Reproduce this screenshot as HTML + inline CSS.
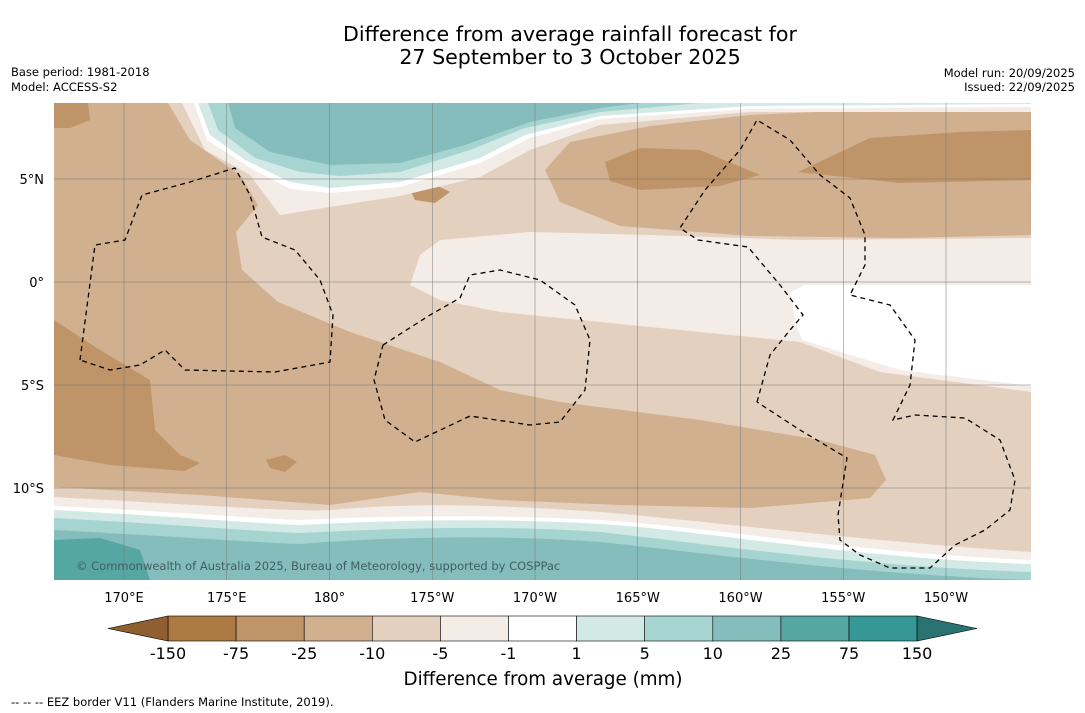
<!DOCTYPE html>
<html><head><meta charset="utf-8">
<style>
body{margin:0;background:#fff;font-family:"DejaVu Sans","Liberation Sans",sans-serif;}
svg{display:block;font-family:"DejaVu Sans","Liberation Sans",sans-serif;}
</style></head>
<body>
<svg width="1085" height="713" viewBox="0 0 1085 713">
<text x="570" y="41" text-anchor="middle" font-size="20.6">Difference from average rainfall forecast for</text>
<text x="570" y="64" text-anchor="middle" font-size="20.6">27 September to 3 October 2025</text>
<text x="11" y="76" font-size="11.5">Base period: 1981-2018</text>
<text x="11" y="91" font-size="11.5">Model: ACCESS-S2</text>
<text x="1075" y="77" font-size="11.5" text-anchor="end">Model run: 20/09/2025</text>
<text x="1075" y="91" font-size="11.5" text-anchor="end">Issued: 22/09/2025</text>
<defs><clipPath id="mc"><rect x="54" y="103" width="977" height="477"/></clipPath></defs>
<g clip-path="url(#mc)">
<rect x="54" y="103" width="977" height="477" fill="#e3d0bf"/>
<path d="M54,103 L168,103 L190,140 L240,175 L258,205 L236,232 L242,270 L278,302 L350,332 L440,362 L500,390 L560,402 L700,420 L820,440 L875,455 L886,480 L870,498 L750,508 L620,505 L500,500 L420,492 L330,505 L200,495 L54,487 Z" fill="#d1b08f"/>
<path d="M545,170 L570,142 L650,126 L750,115 L900,108 L1031,110 L1031,235 L900,238 L750,236 L620,226 L560,202 Z" fill="#d1b08f"/>
<path d="M605,162 L640,148 L700,150 L760,175 L720,186 L640,190 L610,181 Z" fill="#bf9468"/>
<path d="M798,172 L870,138 L960,132 L1031,130 L1031,180 L900,183 Z" fill="#bf9468"/>
<path d="M54,320 L100,350 L150,380 L155,430 L180,455 L200,463 L185,471 L110,465 L54,455 Z" fill="#bf9468"/>
<path d="M54,103 L88,103 L90,120 L70,128 L54,128 Z" fill="#bf9468"/>
<path d="M410,190 L430,182 L450,192 L435,203 L415,200 Z" fill="#bf9468"/>
<path d="M266,460 L285,455 L297,462 L285,472 L270,468 Z" fill="#bf9468"/>
<path d="M410,285 L420,255 L440,240 L530,232 L650,235 L800,240 L1031,238 L1031,392 L880,372 L800,342 L700,332 L600,322 L500,312 L440,300 Z" fill="#f4ece6"/>
<path d="M790,292 L805,285 L1031,285 L1031,386 L900,370 L802,340 L795,320 Z" fill="#fff"/>
<path d="M182,103 L205,150 L250,175 L280,215 L330,207 L400,196 L480,177 L530,150 L600,125 L750,112 L1031,112 L1031,103 Z" fill="#f4ece6"/>
<path d="M194,103 L207,140 L247,166 L290,189 L330,193 L400,187 L480,163 L530,138 L600,119 L750,109 L1031,107 L1031,103 Z" fill="#fff"/>
<path d="M198,103 L210,135 L245,160 L290,182 L330,188 L400,182 L480,158 L525,135 L600,116 L750,106 L1031,104 L1031,103 Z" fill="#d3e9e6"/>
<path d="M208,103 L218,130 L255,158 L300,172 L340,176 L400,172 L470,150 L525,128 L600,112 L700,103 Z" fill="#a6d4d0"/>
<path d="M228,103 L235,128 L270,152 L330,165 L400,163 L465,145 L530,122 L600,108 L640,103 Z" fill="#84bdbb"/>
<path d="M54,497 C200,505 300,512 330,510 C420,502 500,505 600,512 C700,520 850,540 1031,552 L1031,580 L54,580 Z" fill="#f4ece6"/>
<path d="M54,506 C200,513 280,520 300,520 C400,515 500,515 600,520 C700,526 850,552 1031,560 L1031,580 L54,580 Z" fill="#fff"/>
<path d="M54,510 C200,518 280,525 300,525 C400,520 500,518 600,524 C700,530 850,558 1031,564 L1031,580 L54,580 Z" fill="#d3e9e6"/>
<path d="M54,518 C200,526 280,533 300,533 C400,528 500,525 600,532 C700,543 850,566 1031,572 L1031,580 L54,580 Z" fill="#a6d4d0"/>
<path d="M54,530 C200,538 280,544 300,544 C400,536 500,535 600,542 C700,552 850,574 1031,580 L1031,590 L54,590 Z" fill="#84bdbb"/>
<path d="M54,540 L100,538 L140,550 L150,580 L54,580 Z" fill="#56a6a4"/>
<g stroke="#777" stroke-width="0.5" id="grid"></g>
<g fill="none" stroke="#000" stroke-width="1.3" stroke-dasharray="5,4">
<path d="M80,360 L95,245 L125,240 L142,195 L190,182 L235,168 L250,195 L262,237 L295,250 L320,280 L333,315 L330,362 L275,372 L185,370 L165,350 L140,365 L110,370 L80,360"/>
<path d="M383,345 L430,315 L460,298 L470,275 L500,270 L540,280 L575,305 L590,340 L585,390 L560,422 L530,425 L470,416 L415,442 L385,420 L374,380 L383,345"/>
<path d="M757,402 L770,355 L790,330 L803,315 L780,285 L748,247 L698,240 L680,228 L705,190 L740,150 L757,120 L790,140 L820,175 L850,198 L865,235 L865,265 L850,295 L890,305 L915,340 L910,385 L893,420 L915,415 L965,418 L1000,440 L1015,480 L1010,510 L985,530 L955,545 L930,568 L890,568 L860,555 L840,540 L838,515 L847,458 L800,430 L757,402"/>
</g>
<text x="76" y="570" font-size="11.5" fill="#3f6060">© Commonwealth of Australia 2025, Bureau of Meteorology, supported by COSPPac</text>
</g>
<g id="axlabels" font-size="13"></g>
<g id="cbar"></g>
<text x="543" y="685" text-anchor="middle" font-size="18.3">Difference from average (mm)</text>
<text x="11" y="706" font-size="11.5">--  --  -- EEZ border V11 (Flanders Marine Institute, 2019).</text>
</svg>
<script>
const ns='http://www.w3.org/2000/svg';
const lonLabels=['170°E','175°E','180°','175°W','170°W','165°W','160°W','155°W','150°W'];
const lonValues=[170,175,180,185,190,195,200,205,210];
const latLabels=['5°N','0°','5°S','10°S'];
const latValues=[5,0,-5,-10];
const levelLabels=['-150','-75','-25','-10','-5','-1','1','5','10','25','75','150'];
const levelColors=['#ad7a44','#bf9468','#d1b08f','#e3d0bf','#f4ece6','#ffffff','#d3e9e6','#a6d4d0','#84bdbb','#56a6a4','#379795'];
const lonX=v=>124+(v-170)*20.55;
const latY=v=>282-v*20.6;
const grid=document.getElementById('grid');
const ax=document.getElementById('axlabels');
lonValues.forEach((v,i)=>{
 const l=document.createElementNS(ns,'line');
 
 
 l.setAttribute('x1',lonX(v));l.setAttribute('x2',lonX(v));l.setAttribute('y1',103);l.setAttribute('y2',580);
 grid.appendChild(l);
 const t=document.createElementNS(ns,'text');
 
 
 t.setAttribute('x',lonX(v));t.setAttribute('y',602);t.setAttribute('text-anchor','middle');
 t.textContent=lonLabels[i];ax.appendChild(t);
});
latValues.forEach((v,i)=>{
 const l=document.createElementNS(ns,'line');
 
 
 l.setAttribute('x1',54);l.setAttribute('x2',1031);l.setAttribute('y1',latY(v));l.setAttribute('y2',latY(v));
 grid.appendChild(l);
 const t=document.createElementNS(ns,'text');
 
 
 t.setAttribute('x',44);t.setAttribute('y',latY(v)+5);t.setAttribute('text-anchor','end');
 t.textContent=latLabels[i];ax.appendChild(t);
});
const cb=document.getElementById('cbar');
const x0=168,w=68.1,y0=616,h=25;
levelColors.forEach((c,i)=>{
 const r=document.createElementNS(ns,'rect');
 
 
 r.setAttribute('x',x0+i*w);r.setAttribute('y',y0);r.setAttribute('width',w);r.setAttribute('height',h);
 r.setAttribute('fill',c);r.setAttribute('stroke','#000');r.setAttribute('stroke-width','0.6');
 cb.appendChild(r);
});
const xe=x0+levelColors.length*w;
[[`${x0},${y0} ${x0},${y0+h} 108,${y0+h/2}`,'#8f5f30','colorbar-min-extension'],[`${xe},${y0} ${xe},${y0+h} 977,${y0+h/2}`,'#2a7372','colorbar-max-extension']].forEach(p=>{
 const g=document.createElementNS(ns,'polygon');
 
 
 g.setAttribute('points',p[0]);g.setAttribute('fill',p[1]);g.setAttribute('stroke','#000');g.setAttribute('stroke-width','0.6');
 cb.appendChild(g);
});
levelLabels.forEach((s,i)=>{
 const t=document.createElementNS(ns,'text');
 
 
 t.setAttribute('x',x0+i*w);t.setAttribute('y',659);t.setAttribute('text-anchor','middle');t.setAttribute('font-size','16');
 t.textContent=s;cb.appendChild(t);
});
</script>
</body></html>
